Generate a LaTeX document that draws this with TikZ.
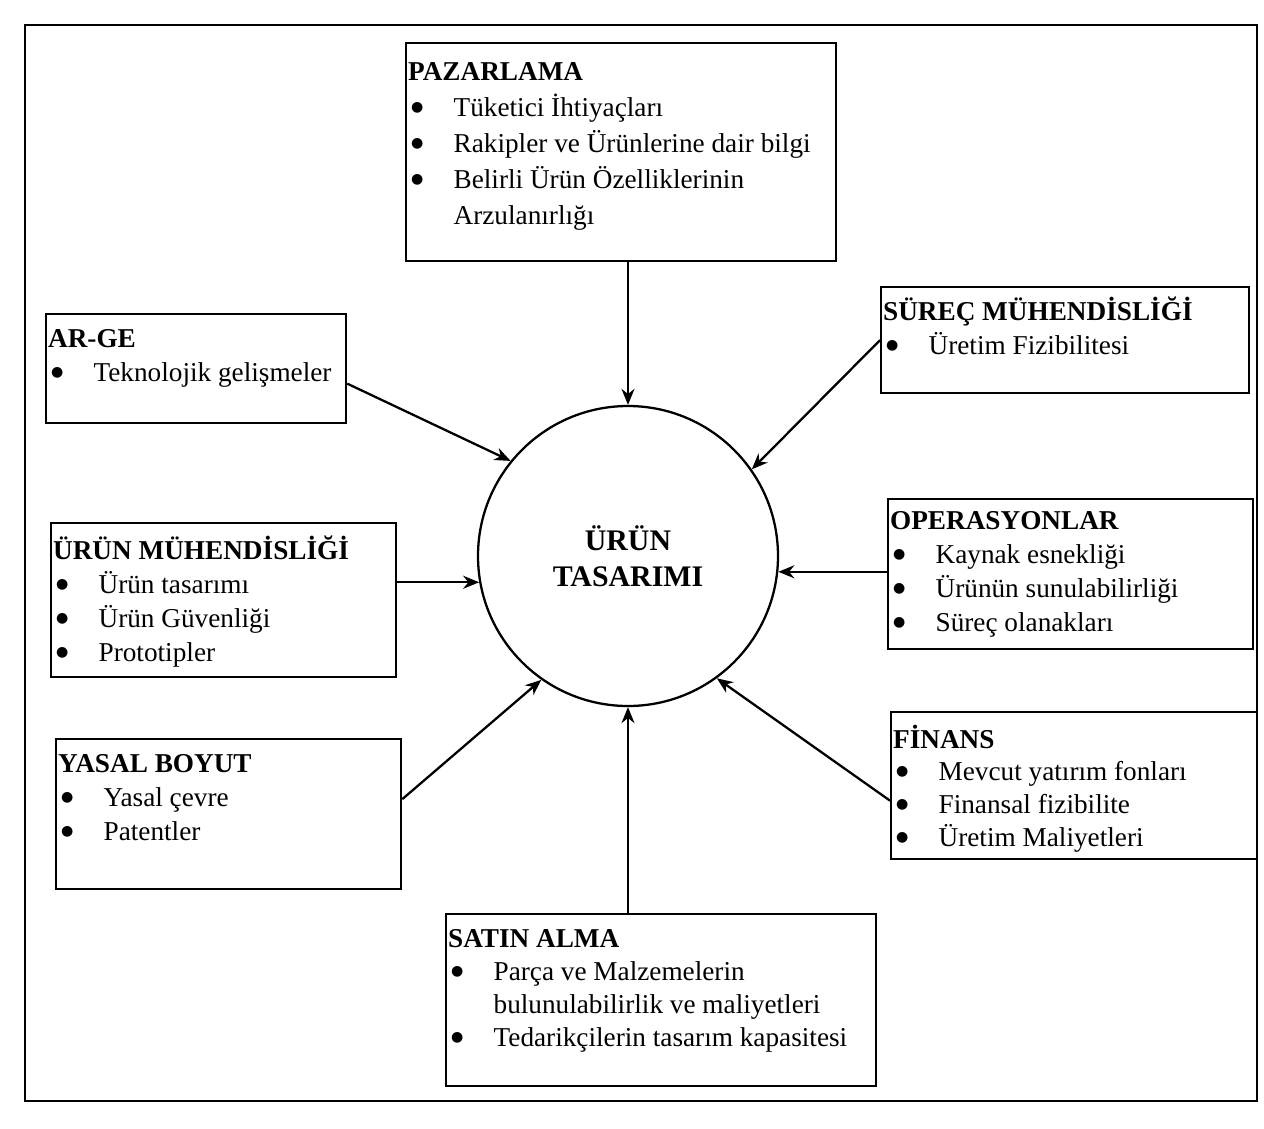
\documentclass[tikz,border=0pt]{standalone}
\usepackage{fontspec}
\setmainfont{Liberation Serif}
\newfontfamily\simge{DejaVu Sans}
\usetikzlibrary{arrows.meta}

% baslik ve madde isaretli satirlar
\newcommand{\baslik}[1]{\noindent\hspace*{0.04cm}\textbf{#1}}
\newcommand{\nokta}{\raisebox{0.1cm}{\simge\fontsize{8}{8}\selectfont ●}}
\newcommand{\madde}[1]{\par\hangindent=0.95cm\hangafter=1\noindent\hbox to 0.95cm{\hspace{0.1cm}\nokta\hfil}#1}

\tikzset{
  kutu/.style={draw, line width=1.3pt, anchor=north west, inner sep=0pt},
  ok/.style={-{Stealth[length=0.32cm,width=0.26cm]}, line width=1.3pt},
}

\begin{document}
\begin{tikzpicture}[font=\fontsize{15.5}{19.3}\selectfont]
  \useasboundingbox (0,0) rectangle (25.28,-22.56);

  %%%%%%%%% Cerceve %%%%%%%%%
  \draw[line width=1.3pt] (0.5,-0.5) rectangle (25.14,-22.02);

  %%%%%%%%% Merkez %%%%%%%%%
  \node[draw, circle, line width=1.3pt, minimum size=6cm, align=center,
    font=\fontsize{17}{20.5}\selectfont\bfseries] (tasarim) at (12.56,-11.12) {ÜRÜN\\TASARIMI};

  %%%%%%%%% Kutular %%%%%%%%%
  \node[kutu] (pazar) at (8.1,-0.84) {\parbox[c][4.36cm][t]{8.6cm}{\fontsize{15.5}{20.6}\selectfont\raggedright\vspace*{0.38cm}
    \baslik{PAZARLAMA}
    \madde{Tüketici İhtiyaçları}
    \madde{Rakipler ve Ürünlerine dair bilgi}
    \madde{Belirli Ürün Özelliklerinin\newline Arzulanırlığı}}};

  \node[kutu] (arge) at (0.9,-6.26) {\parbox[c][2.18cm][t]{6.0cm}{\raggedright\vspace*{0.3cm}
    \baslik{AR-GE}
    \madde{Teknolojik gelişmeler}}};

  \node[kutu] (surec) at (17.6,-5.72) {\parbox[c][2.12cm][t]{7.36cm}{\raggedright\vspace*{0.2cm}
    \baslik{SÜREÇ MÜHENDİSLİĞİ}
    \madde{Üretim Fizibilitesi}}};

  \node[kutu] (urunmuh) at (1.0,-10.44) {\parbox[c][3.08cm][t]{6.9cm}{\raggedright\vspace*{0.25cm}
    \baslik{ÜRÜN MÜHENDİSLİĞİ}
    \madde{Ürün tasarımı}
    \madde{Ürün Güvenliği}
    \madde{Prototipler}}};

  \node[kutu] (oper) at (17.74,-9.96) {\parbox[c][3.0cm][t]{7.3cm}{\raggedright\vspace*{0.25cm}
    \baslik{OPERASYONLAR}
    \madde{Kaynak esnekliği}
    \madde{Ürünün sunulabilirliği}
    \madde{Süreç olanakları}}};

  \node[kutu] (yasal) at (1.1,-14.76) {\parbox[c][3.0cm][t]{6.9cm}{\raggedright\vspace*{0.3cm}
    \baslik{YASAL BOYUT}
    \madde{Yasal çevre}
    \madde{Patentler}}};

  \node[kutu] (finans) at (17.8,-14.22) {\parbox[c][2.94cm][t]{7.32cm}{\fontsize{15.5}{18.6}\selectfont\raggedright\vspace*{0.25cm}
    \baslik{FİNANS}
    \madde{Mevcut yatırım fonları}
    \madde{Finansal fizibilite}
    \madde{Üretim Maliyetleri}}};

  \node[kutu] (satin) at (8.9,-18.26) {\parbox[c][3.44cm][t]{8.6cm}{\fontsize{15.5}{18.8}\selectfont\raggedright\vspace*{0.3cm}
    \baslik{SATIN ALMA}
    \madde{Parça ve Malzemelerin\newline bulunulabilirlik ve maliyetleri}
    \madde{Tedarikçilerin tasarım kapasitesi}}};

  %%%%%%%%% Oklar %%%%%%%%%
  \draw[ok] (pazar.south -| tasarim.north) -- (tasarim.north);
  \draw[ok] (arge.east) ++(0,-0.3) -- (tasarim.141);
  \draw[ok] (surec.west) -- (tasarim.35);
  \draw[ok] (urunmuh.east |- tasarim.190) -- (tasarim.190);
  \draw[ok] (oper.west |- tasarim.354) -- (tasarim.354);
  \draw[ok] (yasal.east) ++(0,0.3) -- (tasarim.235);
  \draw[ok] (finans.west) ++(0,-0.3) -- (tasarim.306);
  \draw[ok] (satin.north -| tasarim.south) -- (tasarim.south);
\end{tikzpicture}
\end{document}
